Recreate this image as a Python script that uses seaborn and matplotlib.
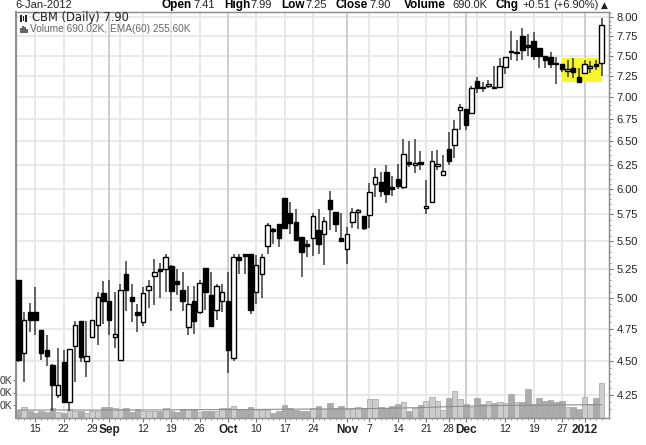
import matplotlib
matplotlib.use("Agg")
import matplotlib.pyplot as plt
from matplotlib.patches import Rectangle
from matplotlib.ticker import NullFormatter, FixedLocator
import numpy as np
import pandas as pd
import seaborn as sns

opens = [5.15,4.56,4.88,4.88,4.74,4.58,4.47,4.25,4.49,4.20,4.61,4.81,4.50,4.68,4.78,5.04,4.97,4.68,4.51,5.20,
         5.01,4.88,4.80,5.07,5.19,5.25,5.25,5.27,5.14,5.07,4.76,4.97,4.88,5.26,5.02,4.90,4.97,4.97,4.52,5.35,
         5.38,5.38,5.05,5.20,5.45,5.61,5.66,5.91,5.76,5.68,5.54,5.47,5.53,5.60,5.56,5.89,5.77,5.53,5.43,5.68,
         5.77,5.73,5.74,6.05,6.07,6.17,6.02,6.10,6.02,6.28,6.24,6.28,5.81,5.87,6.23,6.14,6.41,6.46,6.85,6.86,
         6.81,7.19,7.12,7.13,7.12,7.12,7.36,7.56,7.53,7.75,7.63,7.68,7.60,7.50,7.48,7.41,7.40,7.31,7.35,7.23,
         7.29,7.35,7.39,7.41]
closes = [4.51,4.82,4.82,4.82,4.56,4.54,4.32,4.32,4.20,4.59,4.78,4.53,4.54,4.82,5.01,4.97,4.82,4.71,5.07,5.07,
          4.97,4.86,5.04,5.10,5.22,5.23,5.35,5.06,5.12,4.97,4.95,4.81,5.13,5.05,4.77,5.10,5.05,4.58,5.35,5.33,
          5.36,4.90,5.28,5.35,5.65,5.59,5.53,5.62,5.67,5.51,5.40,5.45,5.73,5.47,5.69,5.80,5.66,5.50,5.56,5.77,
          5.79,5.62,5.97,6.12,5.98,5.95,6.00,6.03,6.36,6.26,6.27,6.26,5.83,6.29,6.26,6.18,6.29,6.63,6.88,6.68,
          7.10,7.10,7.10,7.15,7.10,7.37,7.48,7.54,7.55,7.57,7.61,7.49,7.50,7.45,7.39,7.39,7.33,7.33,7.30,7.17,
          7.40,7.37,7.37,7.90]
highs = [5.15,4.88,4.96,5.09,4.74,4.70,4.48,4.60,4.58,4.59,4.81,4.81,4.81,4.82,5.05,5.14,5.15,5.05,5.12,5.32,
         5.12,4.95,5.09,5.15,5.34,5.30,5.38,5.28,5.25,5.22,5.10,5.10,5.15,5.26,5.22,5.12,5.12,5.22,5.38,5.38,
         5.38,5.38,5.37,5.38,5.67,5.62,5.66,5.91,5.87,5.80,5.54,5.51,5.76,5.80,5.72,5.98,5.77,5.76,5.63,5.81,
         5.80,5.73,6.06,6.21,6.17,6.25,6.13,6.26,6.52,6.50,6.52,6.39,6.09,6.39,6.40,6.35,6.60,6.73,6.92,6.86,
         7.13,7.24,7.18,7.20,7.37,7.47,7.48,7.81,7.70,7.85,7.77,7.80,7.60,7.50,7.54,7.48,7.40,7.45,7.47,7.35,
         7.45,7.43,7.44,7.99]
lows = [4.49,4.34,4.72,4.70,4.51,4.46,4.14,4.23,4.20,4.14,4.34,4.49,4.38,4.68,4.62,4.79,4.70,4.60,4.51,4.89,
        4.80,4.72,4.77,4.92,4.94,5.00,5.05,4.89,5.02,4.89,4.70,4.71,4.87,4.90,4.77,4.82,4.88,4.41,4.50,5.20,
        5.20,4.87,4.95,5.00,5.38,5.47,5.44,5.62,5.56,5.51,5.18,5.35,5.36,5.38,5.28,5.60,5.58,5.50,5.29,5.62,
        5.61,5.60,5.62,5.92,5.92,5.86,5.93,6.00,6.00,6.22,6.16,6.19,5.75,5.87,6.19,6.13,6.25,6.32,6.62,6.62,
        6.80,7.05,7.06,7.10,7.10,7.12,7.27,7.45,7.43,7.45,7.50,7.45,7.35,7.35,7.35,7.15,7.30,7.24,7.22,7.17,
        7.29,7.29,7.32,7.25]
volumes_k = [160,205,140,100,135,105,190,120,90,165,135,135,90,135,135,205,220,195,165,190,
             110,165,135,135,135,135,195,135,110,165,165,165,110,135,135,135,190,190,235,165,
             150,205,150,150,150,85,125,250,190,145,130,140,190,235,165,290,190,235,165,190,
             205,190,380,380,205,190,235,275,310,140,185,250,340,420,335,155,400,525,375,275,
             205,400,275,335,295,315,295,465,315,315,575,275,400,335,355,315,335,205,205,165,
             420,275,400,690]
ema_days = [0,20,40,60,70,77,85,95,103]
ema_k = [150,150,160,175,195,220,240,250,256]

price_ticks = [4.25,4.50,4.75,5.00,5.25,5.50,5.75,6.00,6.25,6.50,6.75,7.00,7.25,7.50,7.75,8.00]
volume_ticks = [250,500,750]
volume_labels = ["0K","0K","0K"]
date_days = [3,8,13,16,22,27,32,37,42,47,52,58,62,67,72,76,79,86,91,96,100]
date_labels = ["15","22","29","Sep","12","19","26","Oct","10","17","24","Nov","7","14","21","28","Dec","12","19","27","2012"]
major_labels = {"Sep","Oct","Nov","Dec","2012"}
extra_grid_days = [18,81]
highlight_days = [96,103]
highlight_prices = [7.17,7.47]

W, H = 646, 445
sns.set_theme(style="white")
plt.rcParams["font.family"] = ["Liberation Sans", "DejaVu Sans"]
fig = plt.figure(figsize=(W/100, H/100), dpi=100, facecolor="white")
rect = [16/W, 1-417.5/H, (609.5-16)/W, (417.5-12)/H]
ax2 = fig.add_axes(rect)
ax = fig.add_axes(rect, sharex=ax2)
ax.patch.set_visible(False)

days = np.arange(len(opens))
df = pd.DataFrame({"day": days, "open": opens, "close": closes, "high": highs, "low": lows, "volume": volumes_k})
df["dir"] = np.where(df["close"] < df["open"], "down", "up")

# volume pane
sns.barplot(data=df, x="day", y="volume", hue="dir", hue_order=["down","up"],
            palette={"down":"#ababab","up":"#cdcdcd"}, native_scale=True, dodge=False,
            width=1.0, edgecolor="#a2a2a2", linewidth=0.5, legend=False, ax=ax2, saturation=1)
sns.lineplot(x=ema_days, y=ema_k, color="#8c8c8c", linewidth=0.8, ax=ax2)
ax2.set_ylim(0, 8110)
ax2.set_xlim(-0.44, 104.4)
ax2.yaxis.tick_left()
ax2.set_yticks(volume_ticks)
ax2.set_yticklabels(volume_labels, fontsize=7.4, color="#333333")
ax2.tick_params(axis="y", length=2, width=0.8, color="#777777", pad=0.8, left=True)
ax2.set_xlabel(""); ax2.set_ylabel("")
ax2.tick_params(axis="x", which="both", bottom=False, labelbottom=False)

# price pane
ax.set_yscale("log")
ax.set_ylim(4.093, 8.067)
ax.fill_between(highlight_days, highlight_prices[0], highlight_prices[1], color="#f7f72c", linewidth=0, zorder=1)
ax.vlines(df["day"], df["low"], df["high"], color="#3a3a3a", linewidth=1.1, zorder=3)
body_bottom = df[["open","close"]].min(axis=1)
body_top = df[["open","close"]].max(axis=1)
mask = df["dir"] == "down"
ax.bar(df["day"][mask], (body_top-body_bottom)[mask], bottom=body_bottom[mask], width=0.78,
       color="black", edgecolor="black", linewidth=1.0, zorder=4)
ax.bar(df["day"][~mask], (body_top-body_bottom)[~mask], bottom=body_bottom[~mask], width=0.78,
       color="white", edgecolor="black", linewidth=1.0, zorder=4)

ax.yaxis.tick_right()
ax.yaxis.set_major_locator(FixedLocator(price_ticks))
ax.yaxis.set_minor_locator(FixedLocator(np.arange(4.15, 8.06, 0.05)))
ax.yaxis.set_minor_formatter(NullFormatter())
ax.set_yticklabels([f"{t:.2f}" for t in price_ticks], fontsize=8, color="#222222")
ax.tick_params(axis="y", which="major", length=3, width=0.8, color="#777777", pad=2, right=True)
ax.tick_params(axis="y", which="minor", length=1.5, width=0.6, color="#888888", right=True)

ax.set_xticks(date_days)
ax.set_xticks(days, minor=True)
ax.set_xticklabels(date_labels, fontsize=7.5, color="#222222")
for lab in ax.get_xticklabels():
    if lab.get_text() in major_labels:
        lab.set_fontweight("bold"); lab.set_fontsize(8.5)
ax.tick_params(axis="x", which="major", length=3, width=0.8, color="#777777", pad=1.5, bottom=True)
ax.tick_params(axis="x", which="minor", length=1.5, width=0.6, color="#888888", bottom=True)

# grid
for t in price_ticks:
    ax2.plot([0,1],[ (np.log(t)-np.log(4.093))/(np.log(8.067)-np.log(4.093)) ]*2, transform=ax2.transAxes,
             color="#e6e6e6", linewidth=1.2, zorder=0.5)
for d, l in zip(date_days, date_labels):
    ax2.axvline(d, color="#c6c6c6" if l in major_labels else "#e4e4e4", linewidth=1.2, zorder=0.5)
for d in extra_grid_days:
    ax2.axvline(d, color="#e4e4e4", linewidth=1.2, zorder=0.5)

for a in (ax, ax2):
    for s in a.spines.values():
        s.set_color("#8f8f8f"); s.set_linewidth(0.9)
ax.spines["left"].set_linewidth(1.4)

def T(x, y, s, **kw):
    fig.text(x/W, 1-y/H, s, va="center", ha=kw.pop("ha","left"), **kw)

T(15, 5, "6-Jan-2012", fontsize=8, color="#222222")
hdr = [(161,"Open",True),(193,"7.41",False),(224,"High",True),(250,"7.99",False),(281,"Low",True),(305,"7.25",False),
       (335,"Close",True),(369,"7.90",False),(404,"Volume",True),(452,"690.0K",False),(495,"Chg",True),(522,"+0.51",False),(553,"(+6.90%)",False)]
for x, s, b in hdr:
    T(x, 5, s, fontsize=8.5 if b else 8, fontweight="bold" if b else "normal", color="black" if b else "#222222")
T(601, 5, "▲", fontsize=6.5, family="DejaVu Sans", color="#222222")
T(32, 18, "CBM (Daily) 7.90", fontsize=8.3, family="DejaVu Sans", color="#222222")
T(30, 29, "Volume 690.02K, EMA(60) 255.60K", fontsize=7.3, color="#666666")

# little legend glyphs
for x, y0, y1, c in [(21,15,22,"#222222"),(23.5,16,21,"#222222"),(26,15,22,"#222222"),
                     (21,28,33,"#666666"),(23,26,33,"#666666"),(25,27,33,"#666666"),(27,29,33,"#666666")]:
    fig.add_artist(Rectangle(((x-0.75)/W, 1-y1/H), 1.5/W, (y1-y0)/H, transform=fig.transFigure, color=c, linewidth=0))

fig.savefig("out.png", dpi=100, facecolor="white")
